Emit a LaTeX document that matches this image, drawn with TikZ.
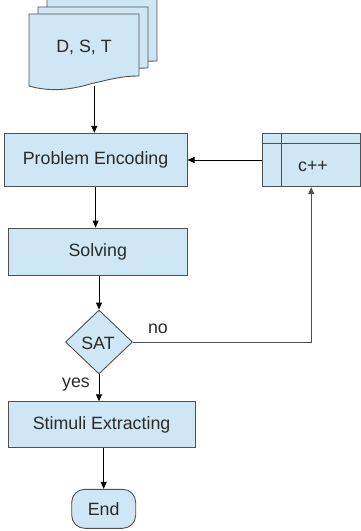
\documentclass[tikz,border=0pt]{standalone}
\usepackage{fontspec}
\setmainfont{Liberation Sans}
\usetikzlibrary{arrows.meta,shapes.geometric,calc}
\definecolor{boxfill}{HTML}{CFE6F4}
\definecolor{boxline}{HTML}{505050}
\definecolor{txt}{HTML}{2A2A2A}
\begin{document}
\begin{tikzpicture}[x=1pt,y=-1pt,
  every node/.style={font=\fontsize{17.8}{20}\selectfont, text=txt},
  proc/.style={draw=boxline, fill=boxfill, line width=0.9pt, rectangle, inner sep=0pt},
  conn/.style={draw=black, line width=0.9pt, -{Triangle[length=7pt,width=6pt]}},
  plain/.style={draw=boxline, line width=0.9pt}]
\useasboundingbox (0,0) rectangle (360,531);
% document stack
\begin{scope}
\clip (0,0) rectangle (360,531);
\foreach \dx/\dy/\b in {18/-22/61, 9/-7/68, 0/0/76}{
  \filldraw[fill=boxfill, draw=boxline, line width=0.9pt]
    (29+\dx,14+\dy) -- (139+\dx,14+\dy) -- (139+\dx,\b)
    .. controls (120+\dx,\b) and (108+\dx,\b+4) .. (90+\dx,\b+8)
    .. controls (70+\dx,\b+14) and (50+\dx,\b+16) .. (29+\dx,\b+10) -- cycle;
}
\end{scope}
\node (doc) at (84,47) {D, S, T};
\coordinate (docb) at (94.3,86);
% boxes
\node[proc, minimum width=183pt, minimum height=53.5pt] (pe) at (95.6,160) {Problem Encoding};
\node[proc, minimum width=179pt, minimum height=47pt] (solv) at (97.8,251.6) {Solving};
\node[proc, minimum width=97.5pt, minimum height=53.5pt] (cpp) at (311.2,160) {};
\draw[plain] (cpp.north west) ++(19.4,0) -- ++(0,53.5);
\draw[plain] (cpp.north west) ++(0,10.7) -- ++(97.5,0);
\node at (313,166) {c++};
\node[draw=boxline, fill=boxfill, line width=0.9pt, diamond, minimum width=67pt, minimum height=64pt, inner sep=0pt] (sat) at (99,342) {};
\node at (98,343) {SAT};
\node[proc, minimum width=186.7pt, minimum height=45.6pt] (stim) at (101.6,424.5) {Stimuli Extracting};
\node[proc, rounded corners=13pt, minimum width=64pt, minimum height=39pt] (end) at (103.7,508.8) {End};
\node (no) at (158,329) {no};
\node (yes) at (76,385) {yes};
% connectors
\draw[conn] (docb) -- (docb |- pe.north);
\draw[conn] (pe.south) -- (pe.south |- solv.north);
\draw[conn] (sat.north |- solv.south) -- (sat.north);
\draw[conn] (sat.south) -- (sat.south |- stim.north);
\draw[conn] (end.north |- stim.south) -- (end.north);
\draw[conn] (cpp.west) -- (pe.east);
\draw[conn, draw=boxline] (sat.east) -| (cpp.south);
\end{tikzpicture}
\end{document}
